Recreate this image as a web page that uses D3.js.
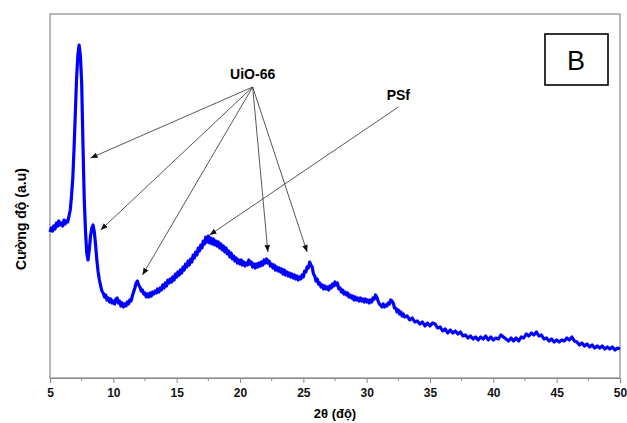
<!DOCTYPE html>
<html>
<head>
<meta charset="utf-8">
<script src="https://cdn.jsdelivr.net/npm/d3@7"></script>
<style>
  body { margin: 0; background: #fff; }
  text { font-family: "Liberation Sans", Arial, sans-serif; }
</style>
</head>
<body>
<svg id="viz" width="627" height="423"></svg>
<script>
const svg = d3.select("#viz");
const margin = { top: 14, right: 7, bottom: 45, left: 50 };
const width = +svg.attr("width");
const height = +svg.attr("height");

// 2theta (deg), intensity (a.u.)
const xrd = [
  [5.0,146],[5.1,150],[5.2,147],[5.3,152],[5.4,149],[5.5,155],[5.6,152],[5.7,157],[5.8,153],[5.9,155],
  [6.0,152],[6.1,158],[6.2,154],[6.3,157],[6.4,156],[6.5,162],[6.6,168],[6.7,182],[6.8,200],[6.9,230],
  [7.0,265],[7.1,300],[7.2,323],[7.3,333],[7.4,322],[7.5,295],[7.6,235],[7.7,180],[7.8,148],[7.9,125],
  [8.0,118],[8.1,128],[8.2,142],[8.3,150],[8.4,153],[8.5,146],[8.6,133],[8.7,118],[8.8,106],[8.9,98],
  [9.0,92],[9.1,87],[9.2,85],[9.3,81],[9.4,83],[9.5,78],[9.6,80],[9.7,76],[9.8,79],[9.9,75],
  [10.0,77],[10.1,74],[10.2,79],[10.3,80],[10.4,75],[10.5,77],[10.6,72],[10.7,75],[10.8,71],[10.9,74],
  [11.0,72],[11.1,76],[11.2,74],[11.3,78],[11.4,77],[11.5,82],[11.6,86],[11.7,90],[11.8,95],[11.9,97],
  [12.0,93],[12.1,91],[12.2,87],[12.3,88],[12.4,84],[12.5,85],[12.6,81],[12.7,84],[12.8,81],[12.9,85],
  [13.0,82],[13.1,86],[13.2,84],[13.3,87],[13.4,85],[13.5,89],[13.6,86],[13.7,90],[13.8,88],[13.9,93],
  [14.0,90],[14.1,95],[14.2,92],[14.3,98],[14.4,95],[14.5,99],[14.6,96],[14.7,101],[14.8,98],[14.9,104],
  [15.0,101],[15.1,106],[15.2,103],[15.3,108],[15.4,105],[15.5,111],[15.6,108],[15.7,114],[15.8,111],[15.9,117],
  [16.0,113],[16.1,119],[16.2,116],[16.3,123],[16.4,120],[16.5,126],[16.6,123],[16.7,130],[16.8,127],[16.9,133],
  [17.0,130],[17.1,137],[17.2,134],[17.3,141],[17.4,136],[17.5,142],[17.6,135],[17.7,140],[17.8,134],[17.9,139],
  [18.0,133],[18.1,137],[18.2,132],[18.3,136],[18.4,130],[18.5,134],[18.6,128],[18.7,132],[18.8,126],[18.9,130],
  [19.0,124],[19.1,127],[19.2,121],[19.3,125],[19.4,119],[19.5,122],[19.6,117],[19.7,120],[19.8,115],[19.9,118],
  [20.0,114],[20.1,118],[20.2,113],[20.3,116],[20.4,112],[20.5,115],[20.6,113],[20.7,118],[20.8,114],[20.9,116],
  [21.0,111],[21.1,114],[21.2,110],[21.3,114],[21.4,111],[21.5,115],[21.6,112],[21.7,116],[21.8,113],[21.9,118],
  [22.0,115],[22.1,119],[22.2,115],[22.3,117],[22.4,112],[22.5,114],[22.6,110],[22.7,113],[22.8,108],[22.9,111],
  [23.0,107],[23.1,110],[23.2,106],[23.3,109],[23.4,104],[23.5,108],[23.6,103],[23.7,106],[23.8,102],[23.9,105],
  [24.0,101],[24.1,104],[24.2,100],[24.3,103],[24.4,99],[24.5,102],[24.6,98],[24.7,101],[24.8,99],[24.9,103],
  [25.0,101],[25.1,107],[25.2,106],[25.3,111],[25.4,110],[25.5,116],[25.6,113],[25.7,111],[25.8,104],[25.9,102],
  [26.0,97],[26.1,99],[26.2,94],[26.3,95],[26.4,91],[26.5,93],[26.6,89],[26.7,92],[26.8,89],[26.9,91],
  [27.0,88],[27.1,92],[27.2,90],[27.3,94],[27.4,92],[27.5,96],[27.6,93],[27.7,95],[27.8,89],[27.9,90],
  [28.0,86],[28.1,88],[28.2,84],[28.3,86],[28.4,83],[28.5,85],[28.6,81],[28.7,83],[28.8,80],[28.9,82],
  [29.0,78],[29.1,81],[29.2,78],[29.3,80],[29.4,77],[29.5,80],[29.6,77],[29.7,79],[29.8,76],[29.9,79],
  [30.0,76],[30.1,78],[30.2,75],[30.3,78],[30.4,76],[30.5,80],[30.6,79],[30.7,83],[30.8,81],[30.9,77],
  [31.0,74],[31.1,73],[31.2,71],[31.3,74],[31.4,71],[31.5,73],[31.6,72],[31.7,75],[31.8,74],[31.9,78],
  [32.0,77],[32.1,75],[32.2,70],[32.3,70],[32.4,66],[32.5,68],[32.6,64],[32.7,66],[32.8,62],[32.9,64],
  [33.0,61],[33.2,62],[33.4,58],[33.6,60],[33.8,56],[34.0,57],[34.2,54],[34.4,56],[34.6,52],[34.8,55],
  [35.0,52],[35.2,55],[35.4,54],[35.6,50],[35.8,51],[36.0,47],[36.2,49],[36.4,45],[36.6,48],[36.8,45],
  [37.0,47],[37.2,44],[37.4,46],[37.6,42],[37.8,43],[38.0,40],[38.2,42],[38.4,39],[38.6,41],[38.8,38],
  [39.0,41],[39.2,39],[39.4,42],[39.6,38],[39.8,41],[40.0,38],[40.2,40],[40.4,39],[40.6,43],[40.8,41],
  [41.0,39],[41.2,37],[41.4,40],[41.6,37],[41.8,40],[42.0,37],[42.2,41],[42.4,40],[42.6,44],[42.8,42],
  [43.0,45],[43.2,43],[43.4,46],[43.6,42],[43.8,43],[44.0,39],[44.2,40],[44.4,37],[44.6,39],[44.8,36],
  [45.0,38],[45.2,36],[45.4,38],[45.6,37],[45.8,40],[46.0,38],[46.2,41],[46.4,37],[46.6,36],[46.8,33],
  [47.0,35],[47.2,32],[47.4,34],[47.6,31],[47.8,33],[48.0,30],[48.2,32],[48.4,30],[48.6,32],[48.8,29],
  [49.0,31],[49.2,29],[49.4,31],[49.6,28],[49.8,30],[50.0,29]
];

const xTicks = [5, 10, 15, 20, 25, 30, 35, 40, 45, 50];
const minorTicks = [7.5, 12.5, 17.5, 22.5, 27.5, 32.5, 37.5, 42.5, 47.5];

// UiO-66 reflections pointed at (2theta, intensity at arrow tip)
const uioLabel = { text: "UiO-66", x: 21.0, y: 299 };
const uioTips = [[8.2, 220], [9.0, 148], [12.3, 103], [22.2, 126], [25.3, 126]];
const psfLabel = { text: "PSf", x: 32.5, y: 278 };
const psfTip = [17.6, 143];

const x = d3.scaleLinear().domain([5, 50]).range([margin.left, width - margin.right]);
const y = d3.scaleLinear().domain([0, 364]).range([height - margin.bottom, margin.top]);

const defs = svg.append("defs");
defs.append("marker")
  .attr("id", "arrow")
  .attr("viewBox", "0 0 10 10")
  .attr("refX", 10).attr("refY", 5)
  .attr("markerWidth", 7).attr("markerHeight", 7)
  .attr("markerUnits", "userSpaceOnUse")
  .attr("orient", "auto")
  .append("path").attr("d", "M0,1 L10,5 L0,9 Z").attr("fill", "#111");

// frame
svg.append("rect")
  .attr("x", margin.left).attr("y", margin.top)
  .attr("width", width - margin.left - margin.right)
  .attr("height", height - margin.top - margin.bottom)
  .attr("fill", "none").attr("stroke", "#8a8a8a").attr("stroke-width", 1.2);

// x axis
const xAxis = svg.append("g")
  .attr("transform", `translate(0,${height - margin.bottom})`)
  .call(d3.axisBottom(x).tickValues(xTicks).tickSize(5).tickPadding(5).tickFormat(d3.format("d")));
xAxis.select(".domain").attr("stroke", "#8a8a8a").attr("stroke-width", 1.2);
xAxis.selectAll(".tick line").attr("stroke", "#8a8a8a");
xAxis.selectAll("text").attr("font-size", "12px").attr("font-weight", "bold").attr("fill", "#111");

svg.append("g")
  .attr("transform", `translate(0,${height - margin.bottom})`)
  .selectAll("line").data(minorTicks).join("line")
  .attr("x1", d => x(d)).attr("x2", d => x(d))
  .attr("y1", 0).attr("y2", 3)
  .attr("stroke", "#8a8a8a");

svg.append("text")
  .attr("x", (margin.left + width - margin.right) / 2)
  .attr("y", 418)
  .attr("text-anchor", "middle")
  .attr("font-size", "13px").attr("font-weight", "bold")
  .text("2θ (độ)");

svg.append("text")
  .attr("transform", `translate(26,219) rotate(-90)`)
  .attr("text-anchor", "middle")
  .attr("font-size", "14px").attr("font-weight", "bold")
  .text("Cường độ (a.u)");

// pattern
const line = d3.line().x(d => x(d[0])).y(d => y(d[1]));
svg.append("path")
  .datum(xrd)
  .attr("fill", "none")
  .attr("stroke", "#0000ff")
  .attr("stroke-width", 3.2)
  .attr("stroke-linejoin", "round")
  .attr("d", line);

// annotations
svg.append("text")
  .attr("x", x(uioLabel.x)).attr("y", y(uioLabel.y))
  .attr("text-anchor", "middle")
  .attr("font-size", "14px").attr("font-weight", "bold")
  .text(uioLabel.text);

uioTips.forEach(t => {
  svg.append("line")
    .attr("x1", x(uioLabel.x)).attr("y1", y(uioLabel.y) + 8)
    .attr("x2", x(t[0])).attr("y2", y(t[1]))
    .attr("stroke", "#444").attr("stroke-width", 0.9)
    .attr("marker-end", "url(#arrow)");
});

svg.append("text")
  .attr("x", x(psfLabel.x)).attr("y", y(psfLabel.y))
  .attr("text-anchor", "middle")
  .attr("font-size", "14px").attr("font-weight", "bold")
  .text(psfLabel.text);

svg.append("line")
  .attr("x1", x(psfLabel.x)).attr("y1", y(psfLabel.y) + 7)
  .attr("x2", x(psfTip[0])).attr("y2", y(psfTip[1]))
  .attr("stroke", "#444").attr("stroke-width", 0.9)
  .attr("marker-end", "url(#arrow)");

// panel letter
svg.append("rect")
  .attr("x", 545).attr("y", 34).attr("width", 63).attr("height", 51)
  .attr("fill", "#fff").attr("stroke", "#000").attr("stroke-width", 1.6);
svg.append("text")
  .attr("x", 576).attr("y", 70)
  .attr("text-anchor", "middle")
  .attr("font-family", "'Open Sans', sans-serif")
  .attr("font-size", "27px")
  .text("B");
</script>
</body>
</html>
